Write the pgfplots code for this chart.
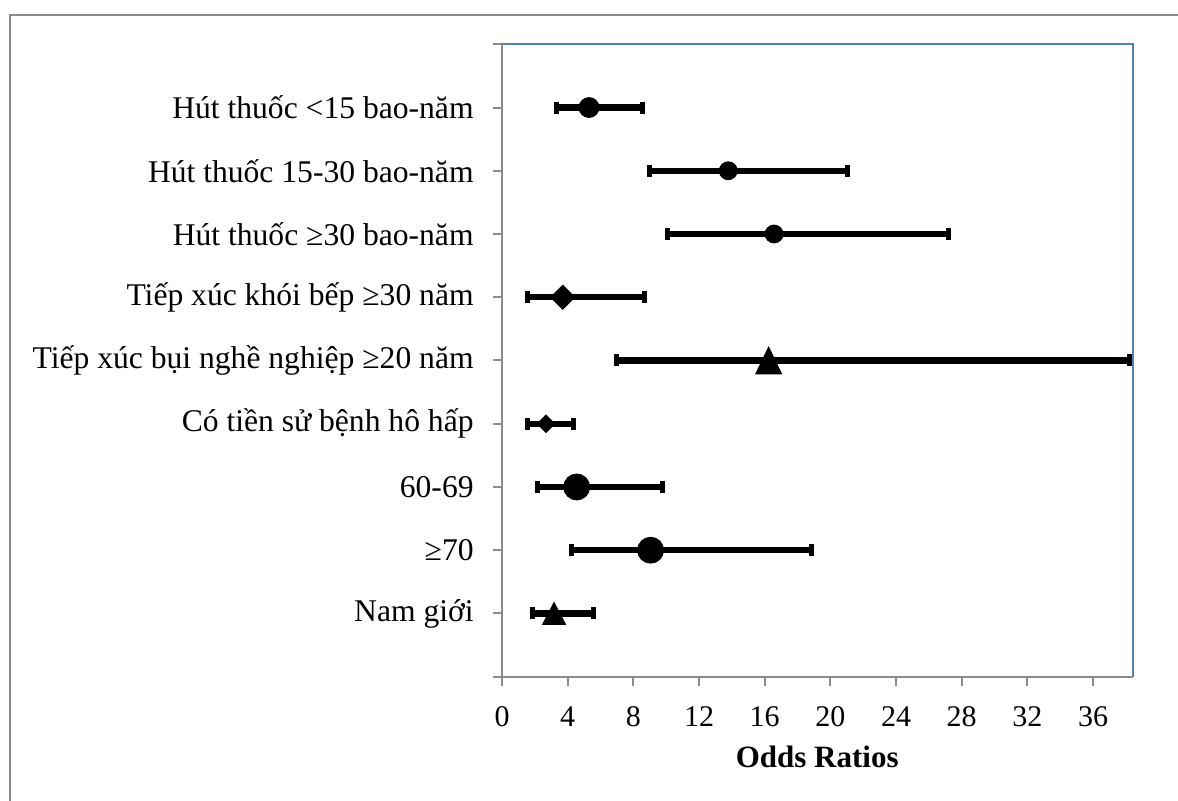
\documentclass[border=0pt]{standalone}
\usepackage{fontspec}
\setmainfont{Liberation Serif}
\usepackage{pgfplots}
\pgfplotsset{compat=1.18}
\definecolor{axblue}{HTML}{4F81BD}
\definecolor{axgray}{HTML}{8C8C8C}
\begin{document}
\fontsize{15}{18}\selectfont
\begin{tikzpicture}
\useasboundingbox (0,0) rectangle (589pt,400.5pt);
\draw[axgray, line width=1pt] (5pt,0) -- (5pt,393pt) -- (589pt,393pt);
\begin{axis}[
  at={(251pt,62.15pt)}, anchor=south west,
  scale only axis, width=315.25pt, height=316.2pt,
  xmin=0, xmax=38.4, ymin=0, ymax=10,
  clip=false,
  axis line style={draw=none},
  xtick={0,4,...,36}, ytick={0,1,...,10},
  yticklabels={,Nam giới,≥70,60-69,Có tiền sử bệnh hô hấp,Tiếp xúc bụi nghề nghiệp ≥20 năm,Tiếp xúc khói bếp ≥30 năm,Hút thuốc ≥30 bao-năm,Hút thuốc 15-30 bao-năm,Hút thuốc <15 bao-năm,},
  tick align=outside, major tick length=4.5pt,
  xtick pos=left, ytick pos=left,
  tick style={axgray, line width=1pt},
  /pgf/number format/assume math mode=true,
  every tick label/.append style={text=black},
  xticklabel style={font=\fontsize{15}{18}\selectfont, text height=10.2pt, text depth=0pt, yshift=-5pt},
  yticklabel style={font=\fontsize{15.8}{18}\selectfont, xshift=-4.5pt},
  xlabel={\textbf{Odds Ratios}},
  xlabel style={at={(axis description cs:0.5,0)}, anchor=base, yshift=-45.6pt, font=\fontsize{15.5}{18}\selectfont},
  every axis plot/.append style={black, only marks,
    error bars/x dir=both, error bars/x explicit,
    error bars/error mark=|,
    error bars/error bar style={line width=3.2pt, black},
    error bars/error mark options={line width=2.5pt, mark size=3pt, black}},
]
\draw[axblue, line width=1pt] (rel axis cs:0,1) -- (rel axis cs:1,1) -- (rel axis cs:1,0);
\draw[axgray, line width=1pt] (rel axis cs:0,1) -- (rel axis cs:0,0) -- (rel axis cs:1,0);
% Hut thuoc <15
\addplot[mark=*, mark size=5pt] coordinates {(5.30,9) += (3.27,0) -= (2.01,0)};
% Hut thuoc 15-30
\addplot[mark=*, mark size=4.5pt] coordinates {(13.78,8) += (7.27,0) -= (4.81,0)};
% Hut thuoc >=30
\addplot[mark=*, mark size=4.5pt] coordinates {(16.57,7) += (10.63,0) -= (6.48,0)};
% Khoi bep
\addplot[mark=square*, mark size=4.3pt, mark options={rotate=45}] coordinates {(3.70,6) += (4.98,0) -= (2.12,0)};
% Bui nghe nghiep
\addplot[mark=triangle*, mark size=7.5pt, mark options={yshift=-2.25pt, yscale=1.2}] coordinates {(16.24,5) += (21.96,0) -= (9.28,0)};
% Tien su ho hap
\addplot[mark=square*, mark size=3.1pt, mark options={rotate=45}] coordinates {(2.68,4) += (1.70,0) -= (1.12,0)};
% 60-69
\addplot[mark=*, mark size=6.5pt] coordinates {(4.55,3) += (5.21,0) -= (2.38,0)};
% >=70
\addplot[mark=*, mark size=6.5pt] coordinates {(9.05,2) += (9.81,0) -= (4.81,0)};
% Nam gioi
\addplot[mark=triangle*, mark size=6.65pt, mark options={yshift=-1.83pt, yscale=1.1}] coordinates {(3.17,1) += (2.43,0) -= (1.31,0)};
\end{axis}
\end{tikzpicture}
\end{document}
